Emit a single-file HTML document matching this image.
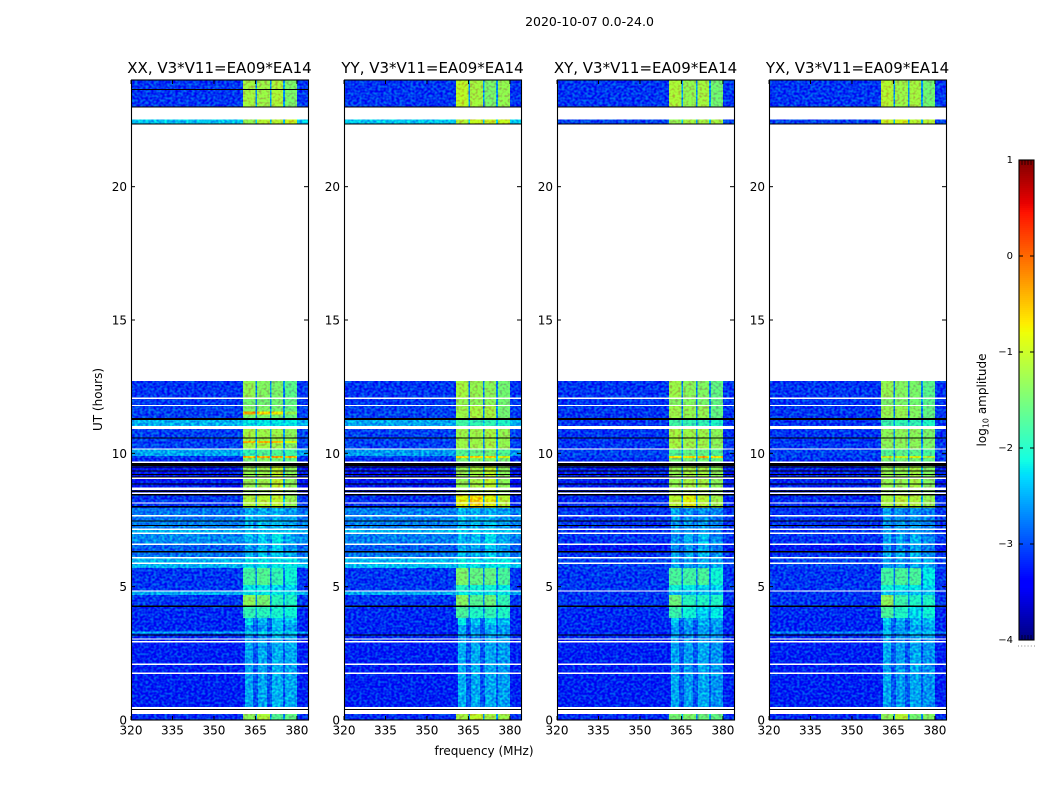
<!DOCTYPE html>
<html>
<head>
<meta charset="utf-8">
<title>2020-10-07 amplitude waterfall</title>
<style>
html,body{margin:0;padding:0;background:#fff;}
svg{display:block;}
text{font-family:"DejaVu Sans","Liberation Sans",sans-serif;fill:#000;}
</style>
</head>
<body>
<svg id="chart" xmlns="http://www.w3.org/2000/svg" width="1050" height="800" viewBox="0 0 1050 800">
<defs>
<filter id="grain" filterUnits="userSpaceOnUse" x="0" y="0" width="1050" height="800" color-interpolation-filters="sRGB">
<feTurbulence type="fractalNoise" baseFrequency="0.37 0.43" numOctaves="1" seed="7" result="n"/>
<feColorMatrix in="n" type="matrix" values="0 0 0 0 0.5  0 2.2 0 0 -0.6  0 0 0 0 0.5  0 0 0 0 1" result="g"/>
<feComposite in="SourceGraphic" in2="g" operator="arithmetic" k1="0" k2="1" k3="0.5" k4="-0.3" result="mixed"/>
<feComposite in="mixed" in2="SourceAlpha" operator="in"/>
</filter>
</defs>
<text x="589.5" y="26" font-size="12.5" text-anchor="middle">2020-10-07 0.0-24.0</text>
<text x="484" y="755" font-size="12" text-anchor="middle">frequency (MHz)</text>
<text x="102" y="399.5" font-size="12" text-anchor="middle" transform="rotate(-90 102 399.5)">UT (hours)</text>
<text x="986" y="400" font-size="12" text-anchor="middle" transform="rotate(-90 986 400)">log<tspan font-size="8" dy="2.5">10</tspan><tspan dy="-2.5"> amplitude</tspan></text>
<g id="panels"></g>
<g id="colorbar"></g>
</svg>
<script>
// Frequency cell edges (MHz): out-of-band, A, notch, B, notch, C, notch, D, out-of-band
const freqEdges = [320, 360.5, 365, 365.6, 370.2, 370.8, 374.9, 375.6, 380, 384];
// Same cell order for the quiet periods, where the bands narrow into streaks
const quietFreqEdges = [320, 361.2, 364.1, 365.9, 369.2, 371, 375, 375.7, 380, 384];
const quietRanges = [[.49,3.83],[5.7,7.95]];
const xTickLabels = [320, 335, 350, 365, 380];
const yTickLabels = [0, 5, 10, 15, 20];
const cbarTickLabels = [1, 0, -1, -2, -3, -4];
const panelTitles = ["XX, V3*V11=EA09*EA14", "YY, V3*V11=EA09*EA14", "XY, V3*V11=EA09*EA14", "YX, V3*V11=EA09*EA14"];

// Rows: [UT start, UT end, out-of-band, band A, band B, band C, band D, notch] in log10 amplitude
const rowsXX = [
[0,.225,-3.1,-1.35,-1.15,-1.7,-1.6,-2.6],
[.49,3.03,-3.15,-2.5,-2.5,-2.45,-2.5,-2.9],
[3.03,3.56,-3.12,-2.55,-2.55,-2.45,-2.55,-2.9],
[3.24,3.32,-2.45,-2.2,-2.2,-2.2,-2.2,-2.4],
[3.56,3.83,-3.12,-2.25,-2.45,-2.3,-2.4,-2.85],
[3.83,4.25,-3.1,-1.9,-1.95,-2.05,-2.1,-2.6],
[4.25,4.69,-3.05,-1.35,-1.5,-1.95,-2.0,-2.6],
[4.69,4.83,-2.5,-2.2,-2.2,-2.2,-2.2,-2.5],
[4.83,5.06,-3.05,-2.2,-2.2,-2.3,-2.3,-2.7],
[5.06,5.7,-3.05,-1.8,-1.7,-1.9,-2.1,-2.7],
[5.7,6.08,-2.45,-2.2,-2.2,-2.2,-2.2,-2.4],
[6.08,6.3,-2.75,-2.4,-2.3,-2.35,-2.5,-2.6],
[6.3,6.58,-2.85,-2.5,-2.4,-2.3,-2.6,-2.7],
[6.58,7.0,-2.65,-2.4,-2.3,-2.2,-2.5,-2.6],
[7.0,7.15,-2.45,-2.3,-2.3,-2.3,-2.35,-2.45],
[7.15,7.5,-2.7,-2.4,-2.35,-2.4,-2.55,-2.6],
[7.5,7.95,-2.75,-2.45,-2.45,-2.45,-2.55,-2.6],
[7.95,8.42,-3.05,-1.15,-1.1,-1.05,-1.3,-2.5],
[8.42,9.53,-3.2,-1.3,-1.25,-1.05,-1.35,-2.5],
[9.53,9.83,-3.1,-1.5,-1.4,-1.5,-1.6,-2.5],
[9.83,9.9,-3.0,-.45,-.4,-.4,-.5,-2.3],
[9.9,10.14,-2.5,-1.9,-1.7,-1.7,-1.8,-2.5],
[10.18,10.39,-3.0,-1.2,-1.2,-1.25,-1.4,-2.6],
[10.39,10.46,-3.0,-.5,-.45,-.5,-.9,-2.5],
[10.46,10.91,-3.0,-1.2,-1.25,-1.25,-1.35,-2.6],
[11.03,11.25,-2.45,-2.2,-2.2,-2.2,-2.2,-2.4],
[11.33,11.79,-3.0,-1.45,-1.45,-1.5,-1.6,-2.7],
[11.45,11.56,-3.0,-.35,-.6,-.75,-1.3,-2.6],
[11.79,12.06,-3.05,-1.5,-1.5,-1.5,-1.6,-2.7],
[12.06,12.72,-3.05,-1.3,-1.4,-1.45,-1.65,-2.7],
[22.37,22.52,-2.35,-1.3,-1.1,-1.1,-1.0,-2.3],
[23,24,-3.05,-1.2,-1.25,-1.15,-1.45,-2.6]
];
const rowsYY = [
[0,.225,-3.1,-1.2,-1.05,-1.2,-1.25,-2.6],
[.49,3.03,-3.15,-2.45,-2.5,-2.5,-2.55,-2.9],
[3.03,3.56,-3.12,-2.5,-2.55,-2.5,-2.55,-2.9],
[3.56,3.83,-3.12,-2.2,-2.35,-2.25,-2.4,-2.85],
[3.83,4.25,-3.1,-1.75,-2.0,-1.9,-2.0,-2.6],
[4.25,4.69,-3.05,-1.4,-1.7,-1.55,-1.9,-2.6],
[4.69,4.83,-2.5,-2.2,-2.2,-2.2,-2.2,-2.5],
[4.83,5.06,-3.05,-2.0,-2.1,-2.1,-2.2,-2.7],
[5.06,5.7,-3.05,-1.45,-1.6,-1.6,-1.75,-2.7],
[5.7,6.08,-2.4,-2.15,-2.2,-2.2,-2.2,-2.4],
[6.08,6.3,-2.75,-2.35,-2.4,-2.3,-2.5,-2.6],
[6.3,6.58,-2.85,-2.45,-2.5,-2.3,-2.6,-2.7],
[6.58,7.0,-2.7,-2.4,-2.4,-2.25,-2.5,-2.6],
[7.0,7.15,-2.45,-2.3,-2.3,-2.3,-2.35,-2.45],
[7.15,7.5,-2.7,-2.4,-2.4,-2.4,-2.55,-2.6],
[7.5,7.95,-2.7,-2.35,-2.45,-2.45,-2.55,-2.6],
[7.95,8.42,-3.1,-.85,-.6,-.85,-1.1,-2.5],
[8.42,9.53,-3.2,-1.3,-1.2,-1.05,-1.35,-2.5],
[9.53,9.83,-3.1,-1.5,-1.4,-1.4,-1.5,-2.5],
[9.83,9.9,-3.0,-.7,-.7,-.7,-.9,-2.3],
[9.9,10.14,-2.55,-1.7,-1.6,-1.5,-1.7,-2.5],
[10.18,10.91,-3.0,-1.25,-1.25,-1.2,-1.3,-2.6],
[11.03,11.25,-2.5,-1.8,-1.9,-1.9,-2.0,-2.4],
[11.33,11.79,-3.0,-1.25,-1.2,-1.2,-1.5,-2.7],
[11.79,12.06,-3.05,-1.3,-1.35,-1.35,-1.5,-2.7],
[12.06,12.72,-3.05,-1.2,-1.3,-1.35,-1.5,-2.7],
[22.37,22.52,-2.35,-1.1,-1.0,-1.0,-1.0,-2.3],
[23,24,-3.05,-1.05,-1.2,-1.45,-1.3,-2.6]
];
const rowsXY = [
[0,.225,-3.1,-1.5,-1.45,-1.55,-1.6,-2.6],
[.49,3.03,-3.15,-2.5,-2.55,-2.5,-2.6,-2.9],
[3.03,3.56,-3.12,-2.55,-2.6,-2.55,-2.6,-2.9],
[3.56,3.83,-3.12,-2.35,-2.5,-2.45,-2.5,-2.85],
[3.83,4.25,-3.1,-1.85,-2.1,-2.3,-2.2,-2.6],
[4.25,4.69,-3.05,-1.55,-1.95,-2.0,-2.0,-2.6],
[4.69,4.83,-3.05,-2.4,-2.4,-2.4,-2.4,-2.7],
[4.83,5.06,-3.05,-2.1,-2.2,-2.25,-2.3,-2.7],
[5.06,5.7,-3.05,-1.75,-1.8,-1.75,-2.1,-2.7],
[5.7,6.08,-3.0,-2.5,-2.5,-2.5,-2.5,-2.8],
[6.08,6.3,-3.05,-2.5,-2.45,-2.4,-2.6,-2.8],
[6.3,6.58,-3.2,-2.6,-2.55,-2.5,-2.7,-2.9],
[6.58,7.0,-3.05,-2.6,-2.45,-2.4,-2.65,-2.8],
[7.0,7.5,-3.05,-2.55,-2.55,-2.55,-2.7,-2.8],
[7.5,7.95,-3.05,-2.5,-2.6,-2.6,-2.7,-2.8],
[7.95,8.42,-3.1,-1.1,-.85,-1.1,-1.25,-2.6],
[8.42,9.53,-3.15,-1.3,-1.2,-1.2,-1.35,-2.6],
[9.53,9.83,-3.1,-1.5,-1.5,-1.5,-1.6,-2.6],
[9.83,9.9,-3.0,-.6,-.7,-.45,-.7,-2.4],
[9.9,10.14,-3.0,-1.7,-1.6,-1.6,-1.7,-2.6],
[10.18,10.91,-3.05,-1.2,-1.25,-1.25,-1.35,-2.6],
[11.03,11.25,-3.05,-1.8,-1.9,-1.9,-2.0,-2.6],
[11.33,11.79,-3.05,-1.25,-1.3,-1.3,-1.6,-2.7],
[11.79,12.06,-3.05,-1.4,-1.4,-1.45,-1.6,-2.7],
[12.06,12.72,-3.05,-1.25,-1.35,-1.4,-1.6,-2.7],
[22.37,22.52,-3.0,-1.3,-1.2,-1.2,-1.2,-2.4],
[23,24,-3.05,-1.15,-1.3,-1.2,-1.5,-2.6]
];
const rowsYX = [
[0,.225,-3.1,-1.35,-1.1,-1.5,-1.4,-2.6],
[.49,3.03,-3.15,-2.5,-2.55,-2.5,-2.6,-2.9],
[3.03,3.56,-3.12,-2.5,-2.6,-2.5,-2.55,-2.9],
[3.24,3.32,-2.6,-2.3,-2.4,-2.3,-2.3,-2.5],
[3.56,3.83,-3.12,-2.3,-2.45,-2.4,-2.4,-2.85],
[3.83,4.25,-3.1,-1.75,-2.0,-2.25,-2.1,-2.6],
[4.25,4.69,-3.05,-1.35,-1.85,-2.0,-2.0,-2.6],
[4.69,4.83,-3.05,-2.4,-2.4,-2.4,-2.4,-2.7],
[4.83,5.06,-3.05,-2.1,-2.2,-2.2,-2.3,-2.7],
[5.06,5.7,-3.05,-1.8,-1.75,-1.75,-2.2,-2.7],
[5.7,6.08,-3.0,-2.5,-2.5,-2.5,-2.5,-2.8],
[6.08,6.3,-3.05,-2.45,-2.5,-2.4,-2.6,-2.8],
[6.3,6.58,-3.2,-2.6,-2.6,-2.5,-2.7,-2.9],
[6.58,7.0,-3.05,-2.55,-2.5,-2.45,-2.65,-2.8],
[7.0,7.5,-3.05,-2.55,-2.55,-2.55,-2.7,-2.8],
[7.5,7.95,-3.05,-2.5,-2.6,-2.6,-2.7,-2.8],
[7.95,8.42,-3.1,-1.2,-1.1,-1.15,-1.3,-2.6],
[8.42,9.53,-3.15,-1.3,-1.3,-1.2,-1.4,-2.6],
[9.53,9.83,-3.1,-1.5,-1.5,-1.5,-1.6,-2.6],
[9.83,9.9,-3.0,-1.0,-1.0,-.9,-1.1,-2.4],
[9.9,10.14,-3.0,-1.7,-1.65,-1.65,-1.75,-2.6],
[10.18,10.91,-3.05,-1.35,-1.35,-1.35,-1.45,-2.6],
[11.03,11.25,-3.05,-1.85,-1.9,-1.9,-2.0,-2.6],
[11.33,11.79,-3.05,-1.3,-1.3,-1.4,-1.6,-2.7],
[11.79,12.06,-3.05,-1.45,-1.45,-1.5,-1.65,-2.7],
[12.06,12.72,-3.05,-1.3,-1.4,-1.45,-1.65,-2.7],
[22.37,22.52,-3.0,-1.0,-.95,-1.1,-1.1,-2.4],
[23,24,-3.05,-1.1,-1.25,-1.2,-1.5,-2.6]
];
// Blank (no data) intervals, UT hours
const blankIntervals = [[.225,.49],[1.73,1.78],[2.06,2.11],[2.91,2.96],[3.01,3.06],[4.81,4.86],[5.85,5.9],[6.06,6.11],[6.57,6.62],[6.98,7.03],[7.13,7.18],[7.63,7.68],[8.11,8.16],[8.47,8.53],[8.63,8.71],[9.04,9.09],[9.64,9.69],[10.14,10.19],[10.91,11.03],[11.77,11.82],[12.04,12.09],[12.72,22.33],[22.52,22.96]];
// Flagged (black) intervals, UT hours
const flaggedIntervals = [[.385,.42],[3.17,3.21],[4.24,4.29],[6.28,6.33],[7.28,7.32],[7.45,7.49],[7.97,8.03],[8.42,8.47],[8.55,8.61],[8.83,8.87],[9.09,9.13],[9.18,9.22],[9.32,9.36],[9.47,9.51],[9.53,9.64],[10.55,10.6],[11.25,11.33],[22.33,22.37],[22.96,23.0]];
const flaggedExtraXX = [[23.62,23.67]];

const panelLefts = [131, 344, 557, 769];
const panelRows = [rowsXX, rowsYY, rowsXY, rowsYX];
const panelExtra = [flaggedExtraXX, [], [], []];
const notchedColumns = [2, 3, 7, 4, 7, 5, 7, 6, 2];

const SVGNS = "http://www.w3.org/2000/svg";
const plotW = 177, plotTop = 80, plotH = 640;
const xScale = f => (f - 320) / 64 * plotW;
const yScale = u => plotTop + plotH - u / 24 * plotH;
const cbarTop = 160, cbarH = 480, cbarLeft = 1019, cbarW = 15;
const cbarScale = v => cbarTop + (1 - v) / 5 * cbarH;

function lerpStops(stops, t) {
  for (let i = 1; i < stops.length; i++) {
    if (t <= stops[i][0]) {
      const a = stops[i - 1], b = stops[i];
      return a[1] + (b[1] - a[1]) * (t - a[0]) / (b[0] - a[0]);
    }
  }
  return stops[stops.length - 1][1];
}
const jetR = [[0,0],[.35,0],[.66,1],[.89,1],[1,.5]];
const jetG = [[0,0],[.125,0],[.375,1],[.64,1],[.91,0],[1,0]];
const jetB = [[0,.5],[.11,1],[.34,1],[.65,0],[1,0]];
function jet(v) {
  const t = Math.max(0, Math.min(1, (v + 4) / 5));
  const c = s => Math.round(lerpStops(s, t) * 255);
  return "rgb(" + c(jetR) + "," + c(jetG) + "," + c(jetB) + ")";
}
function mk(tag, attrs, parent) {
  const el = document.createElementNS(SVGNS, tag);
  for (const k in attrs) el.setAttribute(k, attrs[k]);
  parent.appendChild(el);
  return el;
}
function isQuiet(row) {
  return quietRanges.some(function (q) { return row[0] >= q[0] && row[1] <= q[1]; });
}

const panelsG = document.getElementById("panels");
panelLefts.forEach(function (left, p) {
  const g = mk("g", {}, panelsG);
  
  
  const heat = mk("g", { filter: "url(#grain)", "shape-rendering": "crispEdges" }, g);
  
  
  panelRows[p].forEach(function (row) {
    const edges = isQuiet(row) ? quietFreqEdges : freqEdges;
    for (let i = 0; i < notchedColumns.length; i++) {
      const x0 = left + xScale(edges[i]), x1 = left + xScale(edges[i + 1]);
      const y0 = yScale(row[1]), y1 = yScale(row[0]);
      const cell = mk("rect", { x: x0, y: y0, width: x1 - x0, height: y1 - y0, fill: jet(row[notchedColumns[i]]) }, heat);
      
      
    }
  });
  const bands = mk("g", { "shape-rendering": "crispEdges" }, g);
  
  
  blankIntervals.forEach(function (b) {
    const r = mk("rect", { x: left, y: yScale(b[1]), width: plotW, height: Math.max(1, yScale(b[0]) - yScale(b[1])), fill: "#fff" }, bands);
    
    
  });
  flaggedIntervals.concat(panelExtra[p]).forEach(function (b) {
    const r = mk("rect", { x: left, y: yScale(b[1]), width: plotW, height: Math.max(1, yScale(b[0]) - yScale(b[1])), fill: "#000" }, bands);
    
    
  });
  const frame = mk("rect", { x: left + .5, y: plotTop, width: plotW, height: plotH, fill: "none", stroke: "#000", "stroke-width": 1.1 }, g);
  
  
  const title = mk("text", { x: left + 88.5, y: plotTop - 7, "font-size": 15, "text-anchor": "middle" }, g);
  title.textContent = panelTitles[p];
  
  
  xTickLabels.forEach(function (f) {
    const x = left + xScale(f);
    const tb = mk("line", { x1: x, x2: x, y1: plotTop + plotH, y2: plotTop + plotH - 4, stroke: "#000" }, g);
    
    
    const tt = mk("line", { x1: x, x2: x, y1: plotTop, y2: plotTop + 4, stroke: "#000" }, g);
    
    
    const lab = mk("text", { x: x, y: plotTop + plotH + 14.5, "font-size": 12, "text-anchor": "middle" }, g);
    lab.textContent = f;
    
    
  });
  yTickLabels.forEach(function (u) {
    const y = yScale(u);
    const tl = mk("line", { x1: left, x2: left + 4, y1: y, y2: y, stroke: "#000" }, g);
    
    
    const tr = mk("line", { x1: left + plotW - 4, x2: left + plotW, y1: y, y2: y, stroke: "#000" }, g);
    
    
    const lab = mk("text", { x: left - 4, y: y + 4.5, "font-size": 12, "text-anchor": "end" }, g);
    lab.textContent = u;
    
    
  });
});

const cb = document.getElementById("colorbar");
const cbCells = mk("g", { "shape-rendering": "crispEdges" }, cb);


for (let y = 0; y < cbarH; y += 2) {
  const v = 1 - (y + 1) / cbarH * 5;
  const r = mk("rect", { x: cbarLeft, y: cbarTop + y, width: cbarW, height: 2, fill: jet(v) }, cbCells);
  
  
}
const cbFrame = mk("rect", { x: cbarLeft, y: cbarTop, width: cbarW, height: cbarH, fill: "none", stroke: "#000", "stroke-width": 1.1 }, cb);


cbarTickLabels.forEach(function (v) {
  const y = cbarScale(v);
  const t1 = mk("line", { x1: cbarLeft, x2: cbarLeft + 4, y1: y, y2: y, stroke: "#000" }, cb);
  
  
  const t2 = mk("line", { x1: cbarLeft + cbarW - 4, x2: cbarLeft + cbarW, y1: y, y2: y, stroke: "#000" }, cb);
  
  
  const lab = mk("text", { x: cbarLeft - 6, y: y + 3, "font-size": 10, "text-anchor": "end" }, cb);
  lab.textContent = v < 0 ? "\u2212" + (-v) : String(v);
  
  
});
for (let i = 1; i < 5; i++) {
  const x = cbarLeft + i * 3;
  const a = mk("line", { x1: x, x2: x, y1: cbarTop, y2: cbarTop + 5, stroke: "#000", "stroke-width": .7 }, cb);
  
  
  const b = mk("line", { x1: x, x2: x, y1: cbarTop + cbarH - 5, y2: cbarTop + cbarH, stroke: "#000", "stroke-width": .7 }, cb);
  
  
}
for (let i = 0; i < 6; i++) {
  const d = mk("rect", { x: 1018 + i * 3.2, y: 645.5, width: 1, height: 1, fill: "#888" }, cb);
  
  
}
</script>
</body>
</html>
